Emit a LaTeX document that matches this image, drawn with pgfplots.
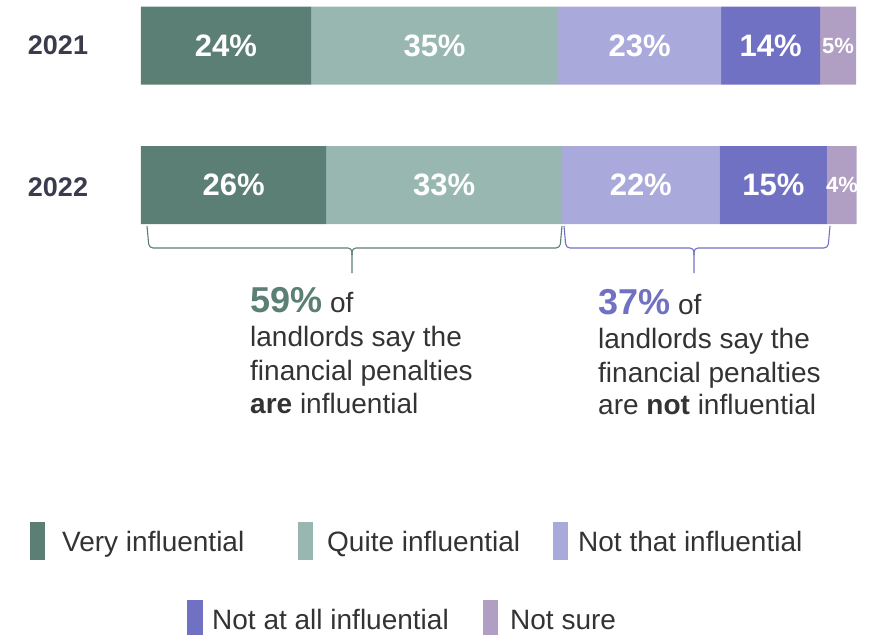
\documentclass[border=0pt]{standalone}
\usepackage{fontspec}
\setmainfont{Liberation Sans}
\usepackage{pgfplots}
\pgfplotsset{compat=1.18}
\definecolor{c1}{HTML}{5B7F74}
\definecolor{c2}{HTML}{98B7B0}
\definecolor{c3}{HTML}{AAA9DB}
\definecolor{c4}{HTML}{7171C4}
\definecolor{c5}{HTML}{B09FC2}
\definecolor{yearc}{HTML}{3B3B4E}
\definecolor{txt}{HTML}{333333}
\newcommand{\fs}[1]{\fontsize{#1}{#1}\selectfont}
\begin{document}
\begin{tikzpicture}
\useasboundingbox (0pt,0pt) rectangle (879pt,-635pt);
\begin{axis}[
  at={(141pt,-3.65pt)}, anchor=north west,
  scale only axis, width=715pt, height=223.2pt,
  xbar stacked, bar width=78pt,
  xmin=0, xmax=100, ymin=-0.3, ymax=1.3,
  hide axis, clip=false,
  point meta=explicit,
  /pgf/number format/assume math mode=true,
  nodes near coords={\pgfmathprintnumber{\pgfplotspointmeta}\%},
  every node near coord/.append style={anchor=center,
    text=white, font=\bfseries\fs{31}},
]
\addplot[fill=c1, draw=none] coordinates {(23.78,1) [24] (25.9,0) [26]};
\addplot[fill=c2, draw=none] coordinates {(34.55,1) [35] (33.0,0) [33]};
\addplot[fill=c3, draw=none] coordinates {(22.80,1) [23] (22.0,0) [22]};
\addplot[fill=c4, draw=none] coordinates {(13.85,1) [14] (15.1,0) [15]};
\addplot[fill=c5, draw=none, every node near coord/.append style={font=\bfseries\fs{22}}]
  coordinates {(5.03,1) [5] (4.1,0) [4]};
\node[font=\bfseries\fs{27}, text=yearc] at (axis cs:0,1) [xshift=-83pt] {2021};
\node[font=\bfseries\fs{27}, text=yearc] at (axis cs:0,0) [xshift=-83pt, yshift=-2pt] {2022};
\end{axis}
% brackets
\draw[c1, line width=1.1pt, rounded corners=4pt]
  (147pt,-226pt) -- (149pt,-248pt) -- (352pt,-248pt) -- (352pt,-273pt);
\draw[c1, line width=1.1pt, rounded corners=4pt]
  (352pt,-255pt) -- (352pt,-248pt) -- (560pt,-248pt) -- (562pt,-226pt);
\draw[c4, line width=1.1pt, rounded corners=4pt]
  (564pt,-226pt) -- (566pt,-248pt) -- (694pt,-248pt) -- (694pt,-273pt);
\draw[c4, line width=1.1pt, rounded corners=4pt]
  (694pt,-255pt) -- (694pt,-248pt) -- (828pt,-248pt) -- (830pt,-226pt);
% annotations
\begin{scope}[every node/.style={anchor=base west, inner sep=0pt, text=txt, font=\fs{28}}]
\node at (250pt,-312pt) {{\color{c1}\bfseries\fs{36}59\%} of};
\node at (250pt,-346pt) {landlords say the};
\node at (250pt,-380pt) {financial penalties};
\node at (250pt,-413pt) {\textbf{are} influential};
\node at (598pt,-314pt) {{\color{c4}\bfseries\fs{36}37\%} of};
\node at (598pt,-348pt) {landlords say the};
\node at (598pt,-382pt) {financial penalties};
\node at (598pt,-414pt) {are \textbf{not} influential};
% legend
\fill[c1] (30pt,-522pt) rectangle (45pt,-560pt);
\node at (62pt,-551pt) {Very influential};
\fill[c2] (298pt,-522pt) rectangle (313pt,-560pt);
\node at (327pt,-551pt) {Quite influential};
\fill[c3] (553pt,-522pt) rectangle (568pt,-560pt);
\node at (578pt,-551pt) {Not that influential};
\fill[c4] (187pt,-600pt) rectangle (203pt,-637pt);
\node at (212pt,-629pt) {Not at all influential};
\fill[c5] (483pt,-600pt) rectangle (498pt,-637pt);
\node at (510pt,-629pt) {Not sure};
\end{scope}
\end{tikzpicture}
\end{document}
